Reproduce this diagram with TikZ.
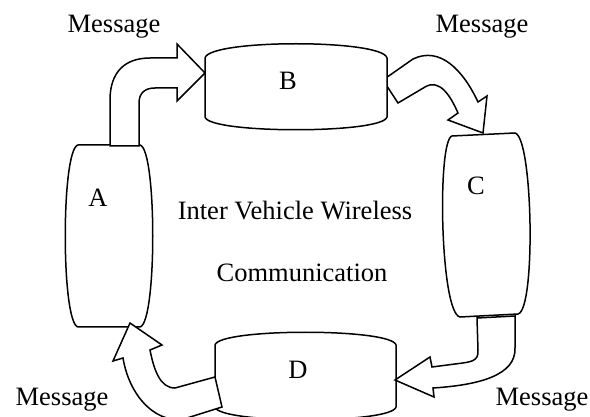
\documentclass[tikz,border=0pt]{standalone}
\usepackage{fontspec}
\setmainfont{Liberation Serif}
\begin{document}
\begin{tikzpicture}[x=1pt,y=-1pt,
  outline/.style={draw=black,line width=1.5pt,fill=white,line join=miter},
  lbl/.style={inner sep=0pt,anchor=base,font=\fontsize{26.5}{31}\selectfont}]
\useasboundingbox (0,0) rectangle (590,417);

% B -> C block arrow (B's edge is drawn over its tail)
\draw[outline] (383,80) -- (413,59) .. controls (440,46) and (463,70) .. (478,102)
  -- (487,96) -- (483,133) -- (448,120) -- (458,113)
  .. controls (451,97) and (440,78) .. (425,87) -- (398,103) -- cycle;

% the four vehicles
\draw[outline] (78,145) -- (140,145) .. controls (157,149) and (157,323) .. (140,327)
  -- (78,327) .. controls (61,323) and (61,149) .. (78,145) -- cycle;
\draw[outline] (205,117) -- (205,58) .. controls (209,39) and (383,39) .. (387,58)
  -- (387,117) .. controls (383,134) and (209,134) .. (205,117) -- cycle;
\draw[outline] (452,136) -- (515,133) .. controls (533,137) and (536,310) .. (518,314)
  -- (460,317) .. controls (440,313) and (437,140) .. (452,136) -- cycle;
\draw[outline] (215,407) -- (215,345) .. controls (219,328) and (392,328) .. (396,345)
  -- (396,407) .. controls (392,424) and (219,424) .. (215,407) -- cycle;

% A -> B block arrow
\draw[outline] (110,146) -- (110,100) .. controls (110,72) and (125,58) .. (150,58)
  -- (177,58) -- (177,44) -- (205,73) -- (177,101) -- (177,88) -- (155,88)
  .. controls (145,88) and (139,93) .. (139,103) -- (139,146) -- cycle;

% C -> D block arrow
\draw[outline] (477,318) -- (478,350) .. controls (479,362) and (470,362) .. (455,364)
  -- (432,367) -- (430,357) -- (395,380) -- (434,397) -- (433,388)
  .. controls (480,385) and (516,375) .. (515,348) -- (515,316) -- cycle;

% D -> A block arrow
\draw[outline] (130,323) -- (162,345) -- (150,350) .. controls (154,370) and (160,388) .. (175,388)
  -- (215,377) -- (222,407) -- (187,418) .. controls (160,426) and (130,400) .. (123,358)
  -- (113,361) -- cycle;

% labels
\node[lbl] (la) at (98,207) {A};
\node[lbl] (lb) at (288,90) {B};
\node[lbl] (lc) at (476,195) {C};
\node[lbl] (ld) at (298,378) {D};
\node[lbl] (t1) at (295,220) {Inter Vehicle Wireless};
\node[lbl] (t2) at (302,282) {Communication};
\node[lbl] (m1) at (114,33) {Message};
\node[lbl] (m2) at (482,33) {Message};
\node[lbl] (m3) at (62,405) {Message};
\node[lbl] (m4) at (542,405) {Message};
\end{tikzpicture}
\end{document}
